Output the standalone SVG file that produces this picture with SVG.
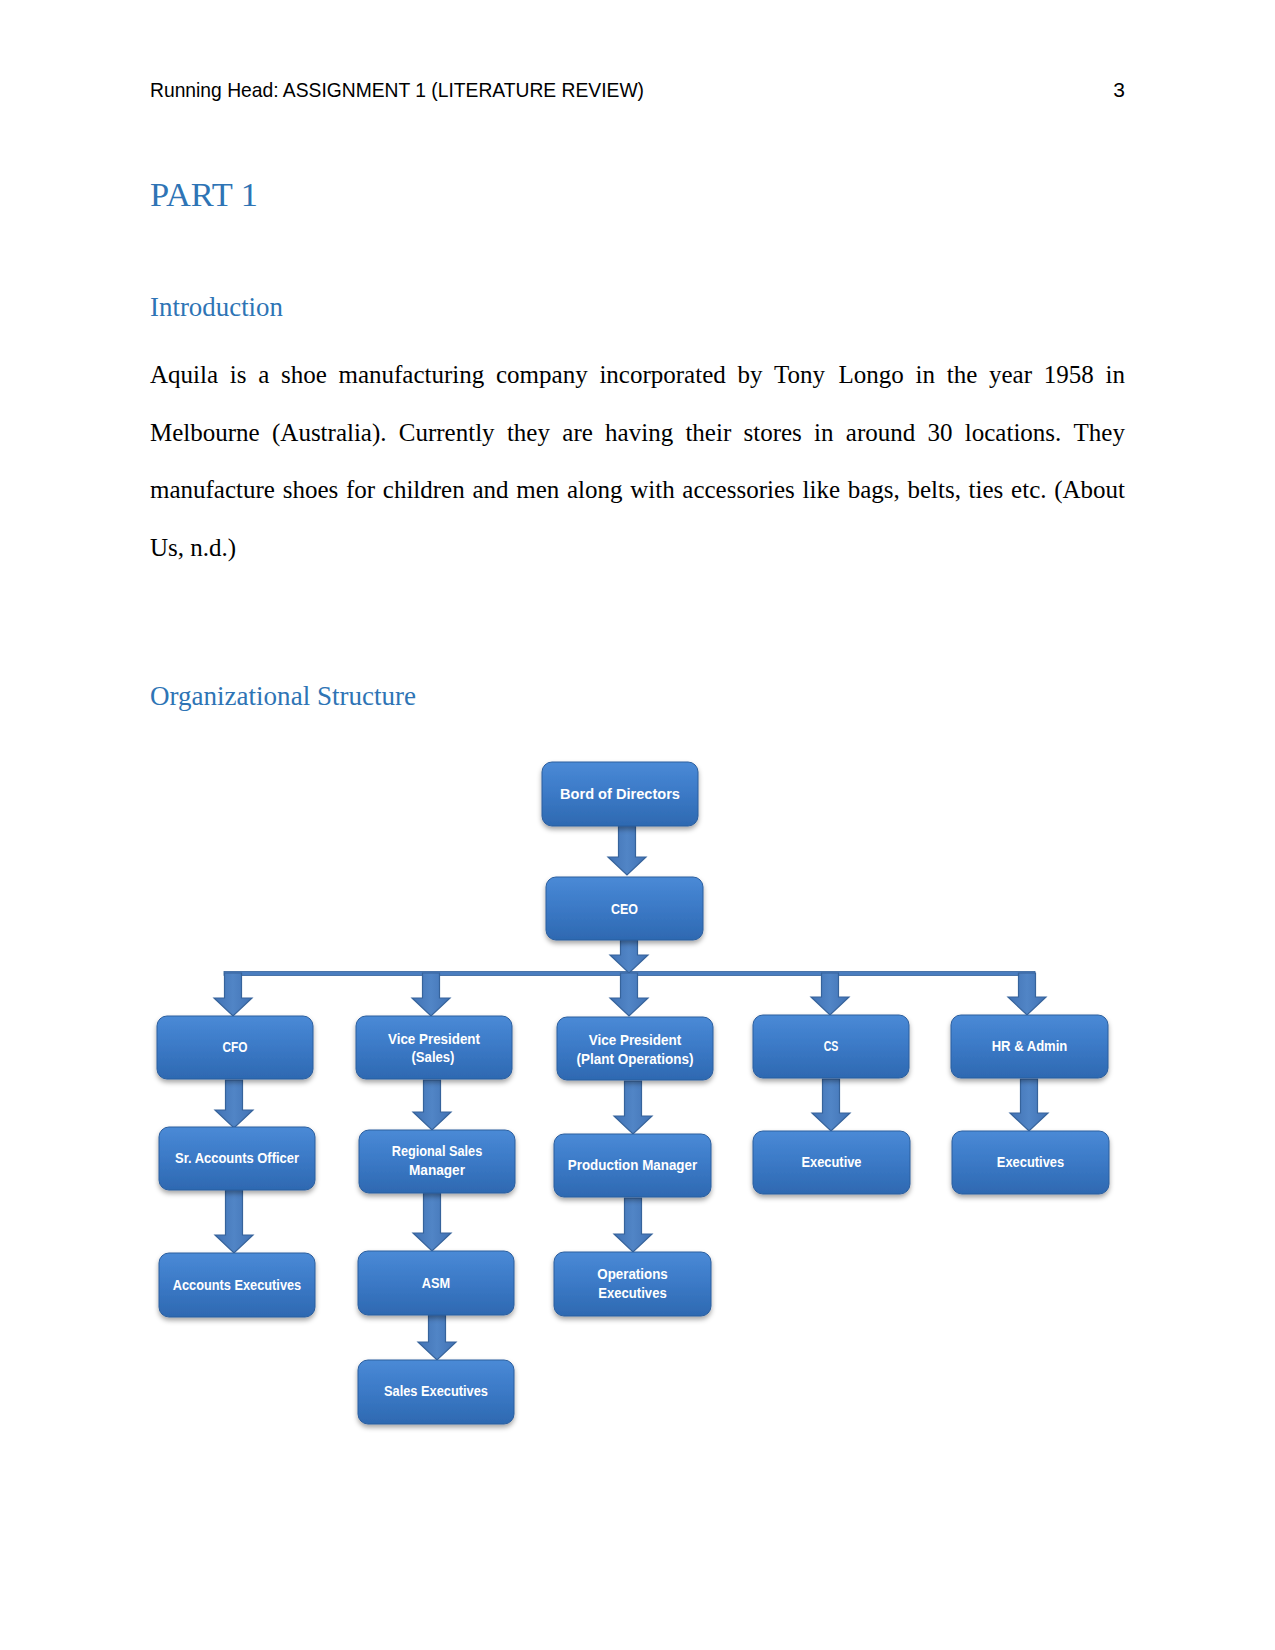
<svg xmlns="http://www.w3.org/2000/svg" width="1275" height="1650" viewBox="0 0 1275 1650">
<defs>
<linearGradient id="boxGrad" x1="0" y1="0" x2="0" y2="1">
<stop offset="0" stop-color="#4A8AD6"/>
<stop offset="0.5" stop-color="#3B79C6"/>
<stop offset="1" stop-color="#2E69B1"/>
</linearGradient>
<linearGradient id="arrGrad" x1="0" y1="0" x2="1" y2="0">
<stop offset="0" stop-color="#4172B4"/>
<stop offset="0.5" stop-color="#5185C6"/>
<stop offset="1" stop-color="#4172B4"/>
</linearGradient>
<filter id="shadow" x="-10%" y="-10%" width="120%" height="130%">
<feDropShadow dx="0" dy="3" stdDeviation="2.5" flood-color="#000" flood-opacity="0.35"/>
</filter>
</defs>
<style>
.hdr{font-family:"Liberation Sans",Arial,sans-serif;font-size:21px;fill:#000}
.h1{font-family:"Liberation Serif","Times New Roman",serif;font-size:33px;fill:#2E74B5}
.h2{font-family:"Liberation Serif","Times New Roman",serif;font-size:27px;fill:#2E74B5}
.body{font-family:"Liberation Serif","Times New Roman",serif;font-size:25px;fill:#000}
.box{fill:url(#boxGrad);stroke:#2A5E9E;stroke-width:1;filter:url(#shadow)}
.lbl{font-family:"Liberation Sans",Arial,sans-serif;font-weight:bold;font-size:14px;fill:#fff;text-anchor:middle}
.lblL{font-family:"Liberation Sans",Arial,sans-serif;font-weight:bold;font-size:15px;fill:#fff;text-anchor:middle}
.arr{fill:url(#arrGrad);stroke:#36639B;stroke-width:1.2;stroke-linejoin:miter}
.bar{fill:#4A7DBF;stroke:#36639B;stroke-width:0.8}
</style>
<rect width="1275" height="1650" fill="#fff"/>
<text class="hdr" x="150" y="97" textLength="494" lengthAdjust="spacingAndGlyphs">Running Head: ASSIGNMENT 1 (LITERATURE REVIEW)</text>
<text class="hdr" x="1125" y="97" text-anchor="end">3</text>
<text class="h1" x="150" y="206" textLength="108" lengthAdjust="spacingAndGlyphs">PART 1</text>
<text class="h2" x="150" y="316" textLength="133" lengthAdjust="spacingAndGlyphs">Introduction</text>
<text class="body" y="383"><tspan x="150">Aquila</tspan><tspan x="229.8">is</tspan><tspan x="258.2">a</tspan><tspan x="281">shoe</tspan><tspan x="338.5">manufacturing</tspan><tspan x="496">company</tspan><tspan x="599.4">incorporated</tspan><tspan x="737.4">by</tspan><tspan x="774.1">Tony</tspan><tspan x="838.6">Longo</tspan><tspan x="915.6">in</tspan><tspan x="946.8">the</tspan><tspan x="989">year</tspan><tspan x="1043.8">1958</tspan><tspan x="1105.5">in</tspan></text>
<text class="body" y="440.5"><tspan x="150">Melbourne</tspan><tspan x="272">(Australia).</tspan><tspan x="398.8">Currently</tspan><tspan x="506.9">they</tspan><tspan x="562.3">are</tspan><tspan x="605.1">having</tspan><tspan x="685.4">their</tspan><tspan x="743.5">stores</tspan><tspan x="814.1">in</tspan><tspan x="845.8">around</tspan><tspan x="927.6">30</tspan><tspan x="964.8">locations.</tspan><tspan x="1073.6">They</tspan></text>
<text class="body" y="498"><tspan x="150">manufacture</tspan><tspan x="282.7">shoes</tspan><tspan x="345.9">for</tspan><tspan x="382.8">children</tspan><tspan x="472.4">and</tspan><tspan x="516.2">men</tspan><tspan x="566.9">along</tspan><tspan x="630.2">with</tspan><tspan x="682.3">accessories</tspan><tspan x="802.5">like</tspan><tspan x="847.7">bags,</tspan><tspan x="907.5">belts,</tspan><tspan x="968.6">ties</tspan><tspan x="1011.1">etc.</tspan><tspan x="1054.2">(About</tspan></text>
<text class="body" x="150" y="555.5">Us, n.d.)</text>
<text class="h2" x="150" y="705" textLength="266" lengthAdjust="spacingAndGlyphs">Organizational Structure</text>

<g id="connectors">
<rect class="bar" x="224" y="971.5" width="811" height="4"/>
<path class="arr" d="M618.5 826 H635.5 V857 H646 L627 875 L608 857 H618.5 Z"/>
<path class="arr" d="M620.5 940 H637.5 V955 H648 L629 973 L610 955 H620.5 Z"/>
<path class="arr" d="M224.5 973 H241.5 V998 H252 L233 1016 L214 998 H224.5 Z"/>
<path class="arr" d="M422.5 973 H439.5 V998 H450 L431 1016 L412 998 H422.5 Z"/>
<path class="arr" d="M620.5 973 H637.5 V998 H648 L629 1016 L610 998 H620.5 Z"/>
<path class="arr" d="M821.5 973 H838.5 V997 H849 L830 1015 L811 997 H821.5 Z"/>
<path class="arr" d="M1018.5 973 H1035.5 V997 H1046 L1027 1015 L1008 997 H1018.5 Z"/>
<path class="arr" d="M225.5 1080 H242.5 V1110 H253 L234 1128 L215 1110 H225.5 Z"/>
<path class="arr" d="M423.5 1080 H440.5 V1112 H451 L432 1130 L413 1112 H423.5 Z"/>
<path class="arr" d="M624.5 1081 H641.5 V1116 H652 L633 1134 L614 1116 H624.5 Z"/>
<path class="arr" d="M822.5 1079 H839.5 V1113 H850 L831 1131 L812 1113 H822.5 Z"/>
<path class="arr" d="M1020.5 1079 H1037.5 V1113 H1048 L1029 1131 L1010 1113 H1020.5 Z"/>
<path class="arr" d="M225.5 1190 H242.5 V1235 H253 L234 1253 L215 1235 H225.5 Z"/>
<path class="arr" d="M423.5 1193 H440.5 V1233 H451 L432 1251 L413 1233 H423.5 Z"/>
<path class="arr" d="M624.5 1198 H641.5 V1234 H652 L633 1252 L614 1234 H624.5 Z"/>
<path class="arr" d="M428.5 1315 H445.5 V1342 H456 L437 1360 L418 1342 H428.5 Z"/>
</g>

<g id="board">
<rect class="box" x="542" y="762" width="156" height="64" rx="10"/>
<text class="lblL" x="620" y="799" textLength="120" lengthAdjust="spacingAndGlyphs">Bord of Directors</text>
</g>
<g id="ceo">
<rect class="box" x="546" y="877" width="157" height="63" rx="10"/>
<text class="lblL" x="624.5" y="913.5" textLength="27" lengthAdjust="spacingAndGlyphs">CEO</text>
</g>
<g id="cfo">
<rect class="box" x="157" y="1016" width="156" height="63" rx="10"/>
<text class="lbl" x="235" y="1052" textLength="25" lengthAdjust="spacingAndGlyphs">CFO</text>
</g>
<g id="vp-sales">
<rect class="box" x="356" y="1016" width="156" height="63" rx="10"/>
<text class="lbl" x="434" y="1043.5" textLength="92" lengthAdjust="spacingAndGlyphs">Vice President</text>
<text class="lbl" x="433" y="1062" textLength="43" lengthAdjust="spacingAndGlyphs">(Sales)</text>
</g>
<g id="vp-plant">
<rect class="box" x="557" y="1017" width="156" height="63" rx="10"/>
<text class="lbl" x="635" y="1044.5" textLength="92.6" lengthAdjust="spacingAndGlyphs">Vice President</text>
<text class="lbl" x="635" y="1063.5" textLength="116.8" lengthAdjust="spacingAndGlyphs">(Plant Operations)</text>
</g>
<g id="cs">
<rect class="box" x="753" y="1015" width="156" height="63" rx="10"/>
<text class="lbl" x="831" y="1051" textLength="14.7" lengthAdjust="spacingAndGlyphs">CS</text>
</g>
<g id="hr-admin">
<rect class="box" x="951" y="1015" width="157" height="63" rx="10"/>
<text class="lbl" x="1029.5" y="1051" textLength="75.7" lengthAdjust="spacingAndGlyphs">HR &amp; Admin</text>
</g>
<g id="sr-accounts-officer">
<rect class="box" x="159" y="1127" width="156" height="63" rx="10"/>
<text class="lbl" x="237" y="1162.5" textLength="124" lengthAdjust="spacingAndGlyphs">Sr. Accounts Officer</text>
</g>
<g id="regional-sales-manager">
<rect class="box" x="359" y="1130" width="156" height="63" rx="10"/>
<text class="lbl" x="437" y="1156" textLength="90.5" lengthAdjust="spacingAndGlyphs">Regional Sales</text>
<text class="lbl" x="437" y="1175" textLength="56" lengthAdjust="spacingAndGlyphs">Manager</text>
</g>
<g id="production-manager">
<rect class="box" x="554" y="1134" width="157" height="63" rx="10"/>
<text class="lbl" x="632.5" y="1170" textLength="129.4" lengthAdjust="spacingAndGlyphs">Production Manager</text>
</g>
<g id="executive">
<rect class="box" x="753" y="1131" width="157" height="63" rx="10"/>
<text class="lbl" x="831.5" y="1166.5" textLength="60" lengthAdjust="spacingAndGlyphs">Executive</text>
</g>
<g id="executives">
<rect class="box" x="952" y="1131" width="157" height="63" rx="10"/>
<text class="lbl" x="1030.5" y="1166.5" textLength="67.3" lengthAdjust="spacingAndGlyphs">Executives</text>
</g>
<g id="accounts-executives">
<rect class="box" x="159" y="1253" width="156" height="64" rx="10"/>
<text class="lbl" x="237" y="1289.5" textLength="128.4" lengthAdjust="spacingAndGlyphs">Accounts Executives</text>
</g>
<g id="asm">
<rect class="box" x="358" y="1251" width="156" height="64" rx="10"/>
<text class="lbl" x="436" y="1287.5" textLength="28.4" lengthAdjust="spacingAndGlyphs">ASM</text>
</g>
<g id="operations-executives">
<rect class="box" x="554" y="1252" width="157" height="64" rx="10"/>
<text class="lbl" x="632.5" y="1279" textLength="70.5" lengthAdjust="spacingAndGlyphs">Operations</text>
<text class="lbl" x="632.5" y="1298" textLength="68.4" lengthAdjust="spacingAndGlyphs">Executives</text>
</g>
<g id="sales-executives">
<rect class="box" x="358" y="1360" width="156" height="64" rx="10"/>
<text class="lbl" x="436" y="1396" textLength="104" lengthAdjust="spacingAndGlyphs">Sales Executives</text>
</g>
</svg>
